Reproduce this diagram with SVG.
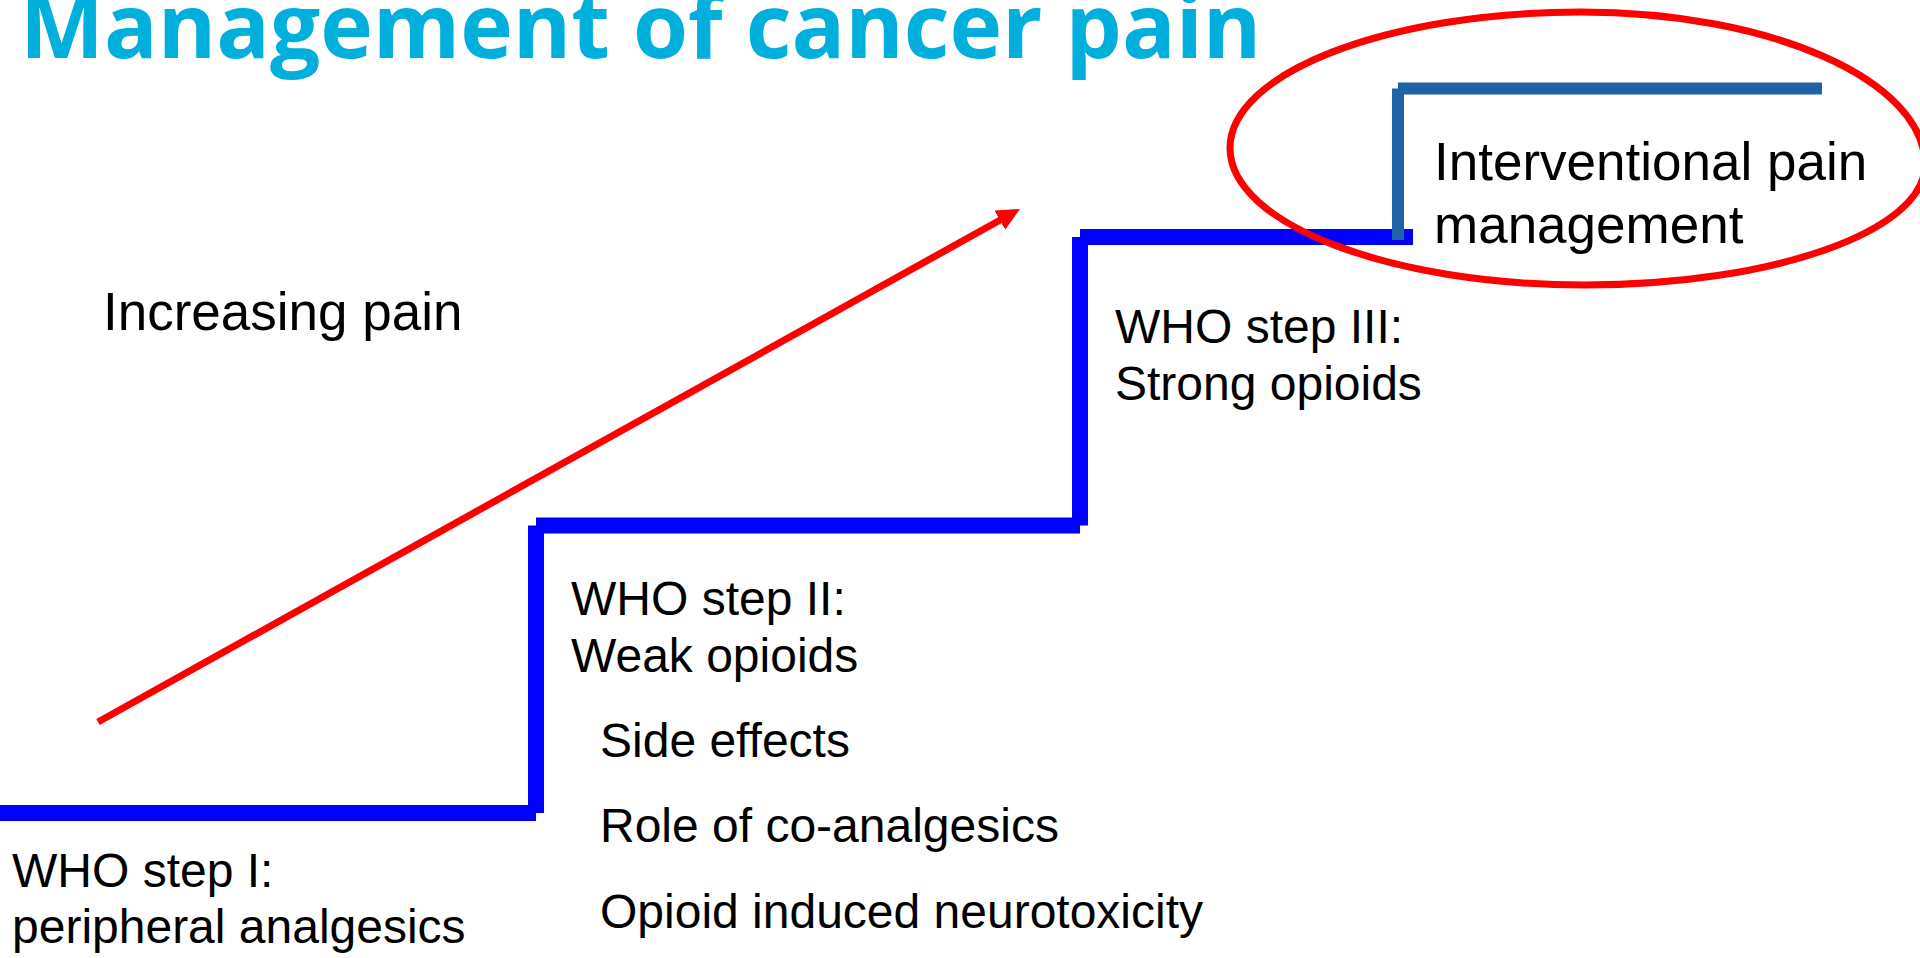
<svg xmlns="http://www.w3.org/2000/svg" width="1920" height="958" viewBox="0 0 1920 958">
  <style>
    .title { font-family: "Open Sans", "Liberation Sans", sans-serif; font-weight: 700; font-size: 89px; fill: #00AFDB; }
    .lbl { font-family: "Liberation Sans", Arial, sans-serif; font-size: 48px; fill: #000000; }
    .lbl53 { font-family: "Liberation Sans", Arial, sans-serif; font-size: 53px; fill: #000000; }
    .step { stroke: #0000FF; stroke-width: 16; fill: none; stroke-linecap: butt; }
    .step4 { stroke: #2062A8; stroke-width: 12; fill: none; stroke-linecap: butt; }
    .red { stroke: #FF0000; stroke-width: 7; fill: none; }
  </style>
  <defs>
    <marker id="arrowhead" markerUnits="userSpaceOnUse" markerWidth="24" markerHeight="22" refX="3" refY="11" orient="auto">
      <path d="M0,0 L23,11 L0,22 z" fill="#FF0000"/>
    </marker>
  </defs>
  <rect x="0" y="0" width="1920" height="958" fill="#FFFFFF"/>

  <g id="title">
    <text class="title" x="20" y="58">Management of cancer pain</text>
  </g>

  <g id="staircase">
    <line class="step" x1="0" y1="813" x2="536" y2="813"/>
    <line class="step" x1="536" y1="813" x2="536" y2="525.5"/>
    <line class="step" x1="536" y1="525.5" x2="1080" y2="525.5"/>
    <line class="step" x1="1080" y1="525.5" x2="1080" y2="237"/>
    <line class="step" x1="1080" y1="237" x2="1413" y2="237"/>
    <line class="step4" x1="1398" y1="240" x2="1398" y2="88.5"/>
    <line class="step4" x1="1398" y1="88.5" x2="1822" y2="88.5"/>
  </g>

  <g id="connectors">
    <line class="red" x1="98" y1="722" x2="1002.5" y2="218.7" marker-end="url(#arrowhead)"/>
  </g>

  <g id="highlight">
    <path class="red" d="M1230,148 C1230,73 1387,12 1581,12 C1771,12 1925,80.5 1925,165 C1925,231 1773,285 1585,285 C1389,285 1230,223.7 1230,148 Z"/>
  </g>

  <g id="increasing-pain">
    <text class="lbl53" x="103" y="330">Increasing pain</text>
  </g>

  <g id="step1">
    <text class="lbl" x="12" y="887">WHO step I:</text>
    <text class="lbl" x="12" y="943">peripheral analgesics</text>
  </g>

  <g id="step2">
    <text class="lbl" x="571" y="615">WHO step II:</text>
    <text class="lbl" x="571" y="672">Weak opioids</text>
  </g>

  <g id="step2-topics">
    <text class="lbl" x="600" y="757">Side effects</text>
    <text class="lbl" x="600" y="842">Role of co-analgesics</text>
    <text class="lbl" x="600" y="928">Opioid induced neurotoxicity</text>
  </g>

  <g id="step3">
    <text class="lbl" x="1115" y="343">WHO step III:</text>
    <text class="lbl" x="1115" y="400">Strong opioids</text>
  </g>

  <g id="step4">
    <text class="lbl53" x="1434" y="180">Interventional pain</text>
    <text class="lbl53" x="1434" y="243">management</text>
  </g>
</svg>
